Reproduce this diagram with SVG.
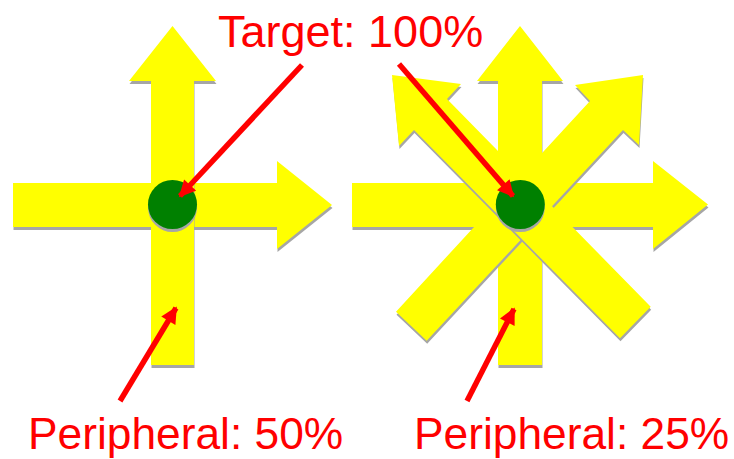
<svg xmlns="http://www.w3.org/2000/svg" width="734" height="459" viewBox="0 0 734 459">
<style>
.arrow{fill:#ffff00}
.shadow{fill:#a6a6a6}
.dot{fill:#008000}
.lbl{font-family:"Liberation Sans",Arial,sans-serif;font-size:45px;fill:#ff0000}
.lblb{font-size:44.3px}
.ptr{stroke:#ff0000;stroke-width:5.5;fill:none;marker-end:url(#head)}
</style>
<defs>
<marker id="head" viewBox="0 0 10 10" refX="9" refY="5" markerWidth="3.2" markerHeight="3" orient="auto" markerUnits="strokeWidth">
<path d="M0 0 L10 5 L0 10 Z" fill="#ff0000"/>
</marker>
<path id="lh" d="M13 183 L277 183 L277 161 L332 205 L277 249 L277 227 L13 227 Z"/>
<path id="lv" d="M151 365 L151 81 L129 81 L172.5 26 L216 81 L194 81 L194 365 Z"/>
<path id="rh" d="M352 183 L653 183 L653 161 L708 204.5 L653 249 L653 227 L352 227 Z"/>
<path id="rv" d="M498 365 L498 81 L477 81 L520 26 L563 81 L542 81 L542 365 Z"/>
<path id="rur" d="M396 311.7 L590 101 L575 85 L643 75 L639 145 L623 130 L426.7 340.7 Z"/>
<path id="rul" d="M650.7 306.7 L447 99 L461 84 L392 75 L399 146 L414 130 L620 338.3 Z"/>
</defs>
<g id="left-cross">
<use href="#lh" class="shadow" transform="translate(0.5,3)"/>
<use href="#lh" class="arrow"/>
<use href="#lv" class="shadow" transform="translate(0.5,3)"/>
<use href="#lv" class="arrow"/>
<circle cx="172.5" cy="207.5" r="24.5" class="shadow"/>
<circle id="left-target" cx="172.5" cy="204.5" r="24.5" class="dot"/>
</g>
<g id="right-star">
<use href="#rh" class="shadow" transform="translate(0.5,3)"/>
<use href="#rh" class="arrow"/>
<use href="#rv" class="shadow" transform="translate(0.5,3)"/>
<use href="#rv" class="arrow"/>
<use href="#rur" class="shadow" transform="translate(0.5,3)"/>
<use href="#rur" class="arrow"/>
<use href="#rul" class="shadow" transform="translate(0.5,3)"/>
<use href="#rul" class="arrow"/>
<circle cx="520.3" cy="207.5" r="24.5" class="shadow"/>
<circle id="right-target" cx="520.3" cy="204.5" r="24.5" class="dot"/>
</g>
<g id="label-target"><text class="lbl" x="218" y="47">Target: 100%</text></g>
<g id="label-p50"><text class="lbl lblb" x="28" y="449">Peripheral: 50%</text></g>
<g id="label-p25"><text class="lbl lblb" x="414" y="449">Peripheral: 25%</text></g>
<g id="connectors">
<line class="ptr" x1="302" y1="65" x2="180" y2="196"/>
<line class="ptr" x1="399" y1="64" x2="513" y2="196"/>
<line class="ptr" x1="120" y1="401" x2="176" y2="308"/>
<line class="ptr" x1="467" y1="401" x2="514" y2="309"/>
</g>
</svg>
